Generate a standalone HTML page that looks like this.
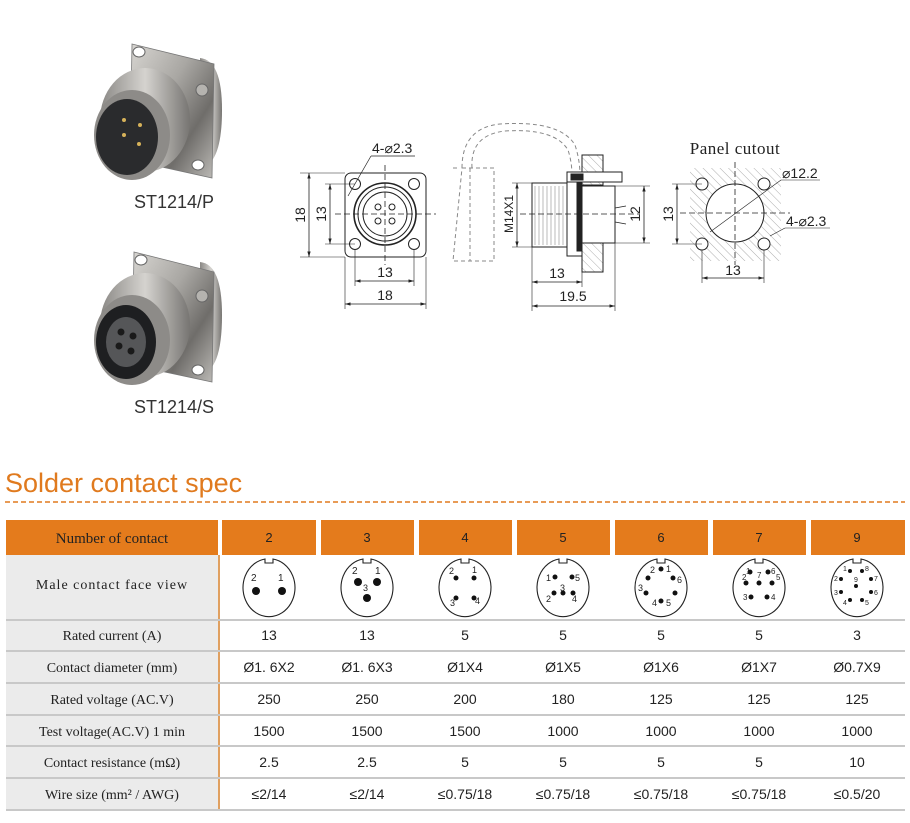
<!DOCTYPE html>
<html><head><meta charset="utf-8"><style>
html,body{margin:0;padding:0;background:#fff;}
svg{display:block;}
.s{font-family:"Liberation Serif",serif;}
.a{font-family:"Liberation Sans",sans-serif;}
</style></head><body>
<svg width="910" height="823" viewBox="0 0 910 823" xmlns="http://www.w3.org/2000/svg">
<defs>
<linearGradient id="met" x1="0" y1="0" x2="1" y2="1">
<stop offset="0" stop-color="#d8d6d2"/><stop offset="0.4" stop-color="#a9a7a3"/><stop offset="0.7" stop-color="#6f6d6a"/><stop offset="1" stop-color="#bdbbb7"/></linearGradient>
<linearGradient id="met2" x1="0" y1="0" x2="1" y2="0">
<stop offset="0" stop-color="#8a8885"/><stop offset="0.5" stop-color="#d5d3cf"/><stop offset="1" stop-color="#777572"/></linearGradient>
<pattern id="hat" width="6" height="6" patternUnits="userSpaceOnUse" patternTransform="rotate(-45)">
<line x1="0" y1="0" x2="0" y2="6" stroke="#999" stroke-width="0.8"/></pattern>
<marker id="ar" viewBox="0 0 10 10" refX="10" refY="5" markerWidth="7" markerHeight="7" orient="auto-start-reverse"><path d="M0,2 L10,5 L0,8z" fill="#222"/></marker>
<path id="f" d="M-4,-28 A26,29 0 1 0 4,-28 L4,-24 L-4,-24 Z"/>
</defs>

<!-- Product P -->
<g>
<path d="M200,58 Q222,60 222,110 Q222,165 200,168 Z" fill="url(#met2)"/>
<path d="M132,44 L214,64 L212,178 L130,160 Z" fill="url(#met)" stroke="#777" stroke-width="0.8"/>
<ellipse cx="139" cy="52" rx="6" ry="5" fill="#fff" stroke="#666"/>
<ellipse cx="202" cy="90" rx="6" ry="6" fill="#b5b3af" stroke="#666"/>
<ellipse cx="198" cy="165" rx="6" ry="5" fill="#fff" stroke="#666"/>
<ellipse cx="145" cy="120" rx="45" ry="52" fill="url(#met2)"/>
<ellipse cx="132" cy="135" rx="38" ry="45" fill="#8d8b88"/>
<ellipse cx="127" cy="137" rx="31" ry="38" fill="#2a2b2d"/>
<circle cx="124" cy="120" r="2" fill="#d6b25a"/><circle cx="140" cy="125" r="2" fill="#d6b25a"/>
<circle cx="124" cy="135" r="2" fill="#d6b25a"/><circle cx="139" cy="144" r="2" fill="#d6b25a"/>
</g>
<text x="174" y="208" class="a" font-size="18" fill="#333" text-anchor="middle">ST1214/P</text>

<!-- Product S -->
<g>
<path d="M200,262 Q222,264 222,315 Q222,372 200,374 Z" fill="url(#met2)"/>
<path d="M134,252 L214,272 L212,382 L132,365 Z" fill="url(#met)" stroke="#777" stroke-width="0.8"/>
<ellipse cx="141" cy="260" rx="6" ry="5" fill="#fff" stroke="#666"/>
<ellipse cx="202" cy="296" rx="6" ry="6" fill="#b5b3af" stroke="#666"/>
<ellipse cx="198" cy="370" rx="6" ry="5" fill="#fff" stroke="#666"/>
<ellipse cx="145" cy="325" rx="45" ry="52" fill="url(#met2)"/>
<ellipse cx="132" cy="340" rx="38" ry="45" fill="#8d8b88"/>
<ellipse cx="126" cy="342" rx="30" ry="37" fill="#1e1f21"/>
<ellipse cx="126" cy="342" rx="20" ry="25" fill="#555658"/>
<circle cx="121" cy="332" r="3.5" fill="#1a1a1a"/><circle cx="133" cy="336" r="3.5" fill="#1a1a1a"/>
<circle cx="119" cy="346" r="3.5" fill="#1a1a1a"/><circle cx="131" cy="351" r="3.5" fill="#1a1a1a"/>
</g>
<text x="174" y="413" class="a" font-size="18" fill="#333" text-anchor="middle">ST1214/S</text>

<!-- Front view drawing -->
<g stroke="#222" stroke-width="1" fill="none">
<rect x="345" y="173" width="81" height="84" rx="6"/>
<circle cx="355" cy="184" r="5.5"/><circle cx="414" cy="184" r="5.5"/>
<circle cx="355" cy="244" r="5.5"/><circle cx="414" cy="244" r="5.5"/>
<circle cx="385" cy="214" r="31" stroke-width="1.6"/>
<circle cx="385" cy="214" r="27"/>
<circle cx="385" cy="214" r="22"/>
<circle cx="378" cy="207" r="3"/><circle cx="392" cy="207" r="3"/>
<circle cx="378" cy="221" r="3"/><circle cx="392" cy="221" r="3"/>
<line x1="335" y1="214" x2="436" y2="214" stroke-dasharray="6,3" stroke-width="0.8"/>
<line x1="385" y1="165" x2="385" y2="265" stroke-dasharray="6,3" stroke-width="0.8"/>
<line x1="300" y1="173" x2="345" y2="173" stroke-width="0.6"/><line x1="300" y1="257" x2="345" y2="257" stroke-width="0.6"/>
<line x1="309" y1="173" x2="309" y2="257" stroke-width="0.8" marker-start="url(#ar)" marker-end="url(#ar)"/>
<line x1="325" y1="184" x2="355" y2="184" stroke-width="0.6"/><line x1="325" y1="244" x2="355" y2="244" stroke-width="0.6"/>
<line x1="330" y1="184" x2="330" y2="244" stroke-width="0.8" marker-start="url(#ar)" marker-end="url(#ar)"/>
<line x1="355" y1="250" x2="355" y2="286" stroke-width="0.6"/><line x1="414" y1="250" x2="414" y2="286" stroke-width="0.6"/>
<line x1="355" y1="281" x2="414" y2="281" stroke-width="0.8" marker-start="url(#ar)" marker-end="url(#ar)"/>
<line x1="345" y1="257" x2="345" y2="309" stroke-width="0.6"/><line x1="426" y1="257" x2="426" y2="309" stroke-width="0.6"/>
<line x1="345" y1="304" x2="426" y2="304" stroke-width="0.8" marker-start="url(#ar)" marker-end="url(#ar)"/>
<line x1="348" y1="196" x2="371" y2="156" stroke-width="0.7"/><line x1="371" y1="156" x2="415" y2="156" stroke-width="0.7"/>
</g>
<g class="a" font-size="14" fill="#222">
<text x="372" y="153">4-⌀2.3</text>
<text x="385" y="277" text-anchor="middle">13</text>
<text x="385" y="300" text-anchor="middle">18</text>
<text transform="translate(305,215) rotate(-90)" text-anchor="middle">18</text>
<text transform="translate(326,214) rotate(-90)" text-anchor="middle">13</text>
</g>

<!-- Side view -->
<g fill="none" stroke="#222" stroke-width="1">
<path d="M453,168 L460,168 M462,168 L494,168 L494,261 L453,261 Z" stroke="#888" stroke-dasharray="4,3"/>
<line x1="470" y1="168" x2="470" y2="261" stroke="#888" stroke-dasharray="4,3"/>
<path d="M462,168 Q462,128 500,124 Q560,120 575,145 Q580,160 580,176" stroke="#888" stroke-dasharray="4,3"/>
<path d="M472,168 Q470,135 505,131 Q555,128 568,150 Q572,162 572,176" stroke="#888" stroke-dasharray="4,3"/>
<rect x="582" y="155" width="21" height="30" fill="url(#hat)"/>
<rect x="582" y="243" width="21" height="29" fill="url(#hat)"/>
<line x1="582" y1="155" x2="582" y2="272"/><line x1="603" y1="155" x2="603" y2="272"/>
<rect x="532" y="183" width="35" height="64" fill="#fff"/>
<path d="M535,186 L535,245 M539,186 L539,245 M543,186 L543,245 M547,186 L547,245 M551,186 L551,245 M555,186 L555,245 M559,186 L559,245 M563,186 L563,245" stroke="#aaa" stroke-width="0.8"/>
<rect x="567" y="177" width="15" height="79" fill="#fff"/>
<rect x="577" y="183" width="5" height="68" fill="#222"/>
<rect x="567" y="172" width="55" height="10" fill="#fff"/>
<rect x="571" y="174" width="12" height="6" fill="#222"/>
<rect x="582" y="186" width="33" height="57" fill="#fff"/>
<path d="M615,208 L626,206 M615,222 L626,224" stroke-width="0.8"/>
<line x1="520" y1="214" x2="640" y2="214" stroke-dasharray="6,3" stroke-width="0.8"/>
<line x1="512" y1="183" x2="532" y2="183" stroke-width="0.6"/><line x1="512" y1="247" x2="532" y2="247" stroke-width="0.6"/>
<line x1="517" y1="183" x2="517" y2="247" stroke-width="0.8" marker-start="url(#ar)" marker-end="url(#ar)"/>
<line x1="615" y1="186" x2="650" y2="186" stroke-width="0.6"/><line x1="615" y1="243" x2="650" y2="243" stroke-width="0.6"/>
<line x1="644" y1="186" x2="644" y2="243" stroke-width="0.8" marker-start="url(#ar)" marker-end="url(#ar)"/>
<line x1="532" y1="247" x2="532" y2="311" stroke-width="0.6"/><line x1="582" y1="272" x2="582" y2="287" stroke-width="0.6"/><line x1="615" y1="243" x2="615" y2="311" stroke-width="0.6"/>
<line x1="532" y1="282" x2="582" y2="282" stroke-width="0.8" marker-start="url(#ar)" marker-end="url(#ar)"/>
<line x1="532" y1="306" x2="615" y2="306" stroke-width="0.8" marker-start="url(#ar)" marker-end="url(#ar)"/>
</g>
<g class="a" font-size="14" fill="#222">
<text transform="translate(513,214) rotate(-90)" text-anchor="middle" font-size="12">M14X1</text>
<text transform="translate(640,214) rotate(-90)" text-anchor="middle">12</text>
<text x="557" y="278" text-anchor="middle">13</text>
<text x="573" y="301" text-anchor="middle">19.5</text>
</g>

<!-- Panel cutout -->
<text x="735" y="154" class="s" font-size="17" fill="#222" text-anchor="middle" letter-spacing="0.5">Panel cutout</text>
<g fill="none" stroke="#222" stroke-width="1">
<rect x="690" y="168" width="91" height="93" fill="url(#hat)" stroke="none"/>
<circle cx="735" cy="213" r="29" fill="#fff"/>
<circle cx="702" cy="184" r="6" fill="#fff"/><circle cx="764" cy="184" r="6" fill="#fff"/>
<circle cx="702" cy="244" r="6" fill="#fff"/><circle cx="764" cy="244" r="6" fill="#fff"/>
<line x1="680" y1="213" x2="790" y2="213" stroke-dasharray="6,3" stroke-width="0.8"/>
<line x1="735" y1="162" x2="735" y2="265" stroke-dasharray="6,3" stroke-width="0.8"/>
<line x1="710" y1="232" x2="781" y2="180" stroke-width="0.6"/><line x1="781" y1="180" x2="820" y2="180" stroke-width="0.6"/>
<line x1="770" y1="236" x2="785" y2="228" stroke-width="0.6"/><line x1="785" y1="228" x2="830" y2="228" stroke-width="0.6"/>
<line x1="672" y1="184" x2="702" y2="184" stroke-width="0.6"/><line x1="672" y1="244" x2="702" y2="244" stroke-width="0.6"/>
<line x1="677" y1="184" x2="677" y2="244" stroke-width="0.8" marker-start="url(#ar)" marker-end="url(#ar)"/>
<line x1="702" y1="250" x2="702" y2="283" stroke-width="0.6"/><line x1="764" y1="250" x2="764" y2="283" stroke-width="0.6"/>
<line x1="702" y1="278" x2="764" y2="278" stroke-width="0.8" marker-start="url(#ar)" marker-end="url(#ar)"/>
</g>
<g class="a" font-size="14" fill="#222">
<text x="782" y="178">⌀12.2</text>
<text x="786" y="226">4-⌀2.3</text>
<text transform="translate(673,214) rotate(-90)" text-anchor="middle">13</text>
<text x="733" y="275" text-anchor="middle">13</text>
</g>

<!-- Section title -->
<text x="5" y="492" class="a" font-size="27" fill="#e07a1e">Solder contact spec</text>
<line x1="5" y1="502" x2="905" y2="502" stroke="#e07a1e" stroke-width="1.5" stroke-dasharray="5,3"/>

<!-- Table -->
<rect x="6" y="520" width="212" height="35" fill="#e47b1c"/>
<g fill="#e47b1c">
<rect x="222" y="520" width="94" height="35"/><rect x="321" y="520" width="93" height="35"/>
<rect x="419" y="520" width="93" height="35"/><rect x="517" y="520" width="93" height="35"/>
<rect x="615" y="520" width="93" height="35"/><rect x="713" y="520" width="93" height="35"/>
<rect x="811" y="520" width="94" height="35"/>
</g>
<rect x="6" y="555" width="212" height="256" fill="#ebebeb"/>
<line x1="219" y1="555" x2="219" y2="811" stroke="#e0a060" stroke-width="2"/>
<g stroke="#c8c8c8" stroke-width="2">
<line x1="6" y1="620" x2="905" y2="620"/><line x1="6" y1="651" x2="905" y2="651"/>
<line x1="6" y1="683" x2="905" y2="683"/><line x1="6" y1="715" x2="905" y2="715"/>
<line x1="6" y1="746" x2="905" y2="746"/><line x1="6" y1="778" x2="905" y2="778"/>
<line x1="6" y1="810" x2="905" y2="810"/>
</g>
<g class="s" font-size="14" fill="#222" text-anchor="middle">
<text x="112" y="543" font-size="15">Number of contact</text>
<text x="112" y="589" letter-spacing="1">Male contact face view</text>
<text x="112" y="640">Rated current (A)</text>
<text x="112" y="672">Contact diameter (mm)</text>
<text x="112" y="704">Rated voltage (AC.V)</text>
<text x="112" y="736">Test voltage(AC.V) 1 min</text>
<text x="112" y="767">Contact resistance (mΩ)</text>
<text x="112" y="799">Wire size (mm² / AWG)</text>
</g>
<g class="a" font-size="13" fill="#222" text-anchor="middle">
<text x="269" y="542">2</text><text x="367" y="542">3</text><text x="465" y="542">4</text><text x="563" y="542">5</text><text x="661" y="542">6</text><text x="759" y="542">7</text><text x="857" y="542">9</text>
</g>
<g class="a" font-size="14" fill="#222" text-anchor="middle">
<text x="269" y="640">13</text><text x="367" y="640">13</text><text x="465" y="640">5</text><text x="563" y="640">5</text><text x="661" y="640">5</text><text x="759" y="640">5</text><text x="857" y="640">3</text>
<text x="269" y="672">Ø1. 6X2</text><text x="367" y="672">Ø1. 6X3</text><text x="465" y="672">Ø1X4</text><text x="563" y="672">Ø1X5</text><text x="661" y="672">Ø1X6</text><text x="759" y="672">Ø1X7</text><text x="857" y="672">Ø0.7X9</text>
<text x="269" y="704">250</text><text x="367" y="704">250</text><text x="465" y="704">200</text><text x="563" y="704">180</text><text x="661" y="704">125</text><text x="759" y="704">125</text><text x="857" y="704">125</text>
<text x="269" y="736">1500</text><text x="367" y="736">1500</text><text x="465" y="736">1500</text><text x="563" y="736">1000</text><text x="661" y="736">1000</text><text x="759" y="736">1000</text><text x="857" y="736">1000</text>
<text x="269" y="767">2.5</text><text x="367" y="767">2.5</text><text x="465" y="767">5</text><text x="563" y="767">5</text><text x="661" y="767">5</text><text x="759" y="767">5</text><text x="857" y="767">10</text>
<text x="269" y="799">≤2/14</text><text x="367" y="799">≤2/14</text><text x="465" y="799">≤0.75/18</text><text x="563" y="799">≤0.75/18</text><text x="661" y="799">≤0.75/18</text><text x="759" y="799">≤0.75/18</text><text x="857" y="799">≤0.5/20</text>
</g>

<!-- Contact faces -->
<g stroke="#222" stroke-width="1.1" fill="#fff">
<use href="#f" x="269" y="587"/><use href="#f" x="367" y="587"/><use href="#f" x="465" y="587"/>
<use href="#f" x="563" y="587"/><use href="#f" x="661" y="587"/><use href="#f" x="759" y="587"/><use href="#f" x="857" y="587"/>
</g>
<g fill="#111">
<circle cx="256" cy="591" r="4"/><circle cx="282" cy="591" r="4"/>
<circle cx="358" cy="582" r="4"/><circle cx="377" cy="582" r="4"/><circle cx="367" cy="598" r="4"/>
<circle cx="456" cy="578" r="2.5"/><circle cx="474" cy="578" r="2.5"/><circle cx="456" cy="598" r="2.5"/><circle cx="474" cy="598" r="2.5"/>
<circle cx="555" cy="577" r="2.5"/><circle cx="572" cy="577" r="2.5"/><circle cx="554" cy="593" r="2.5"/><circle cx="563" cy="593" r="2.5"/><circle cx="573" cy="593" r="2.5"/>
<circle cx="661" cy="569" r="2.5"/><circle cx="648" cy="578" r="2.5"/><circle cx="673" cy="578" r="2.5"/><circle cx="646" cy="593" r="2.5"/><circle cx="675" cy="593" r="2.5"/><circle cx="661" cy="601" r="2.5"/>
<circle cx="750" cy="572" r="2.5"/><circle cx="768" cy="572" r="2.5"/><circle cx="746" cy="583" r="2.5"/><circle cx="759" cy="583" r="2.5"/><circle cx="772" cy="583" r="2.5"/><circle cx="751" cy="597" r="2.5"/><circle cx="767" cy="597" r="2.5"/>
<circle cx="850" cy="571" r="2"/><circle cx="862" cy="571" r="2"/><circle cx="841" cy="579" r="2"/><circle cx="871" cy="579" r="2"/><circle cx="856" cy="586" r="2"/><circle cx="841" cy="592" r="2"/><circle cx="871" cy="592" r="2"/><circle cx="850" cy="600" r="2"/><circle cx="862" cy="600" r="2"/>
</g>
<g class="a" fill="#222" font-size="10">
<text x="251" y="581">2</text><text x="278" y="581">1</text>
<text x="352" y="574">2</text><text x="375" y="574">1</text><text x="363" y="591" font-size="9">3</text>
<text x="449" y="574" font-size="9">2</text><text x="472" y="573" font-size="9">1</text><text x="450" y="606" font-size="9">3</text><text x="475" y="604" font-size="9">4</text>
<text x="546" y="581" font-size="9">1</text><text x="575" y="581" font-size="9">5</text><text x="546" y="602" font-size="9">2</text><text x="560" y="591" font-size="9">3</text><text x="572" y="602" font-size="9">4</text>
<text x="650" y="573" font-size="9">2</text><text x="666" y="572" font-size="9">1</text><text x="677" y="583" font-size="9">6</text><text x="638" y="591" font-size="9">3</text><text x="652" y="606" font-size="9">4</text><text x="666" y="606" font-size="9">5</text>
<text x="742" y="580" font-size="8">2</text><text x="746" y="574" font-size="8">1</text><text x="757" y="578" font-size="8">7</text><text x="771" y="574" font-size="8">6</text><text x="776" y="580" font-size="8">5</text><text x="743" y="600" font-size="8">3</text><text x="771" y="600" font-size="8">4</text>
<text x="843" y="571" font-size="7">1</text><text x="865" y="571" font-size="7">8</text><text x="834" y="581" font-size="7">2</text><text x="874" y="581" font-size="7">7</text><text x="854" y="582" font-size="7">9</text><text x="834" y="595" font-size="7">3</text><text x="874" y="595" font-size="7">6</text><text x="843" y="605" font-size="7">4</text><text x="865" y="605" font-size="7">5</text>
</g>
</svg>
</body></html>
